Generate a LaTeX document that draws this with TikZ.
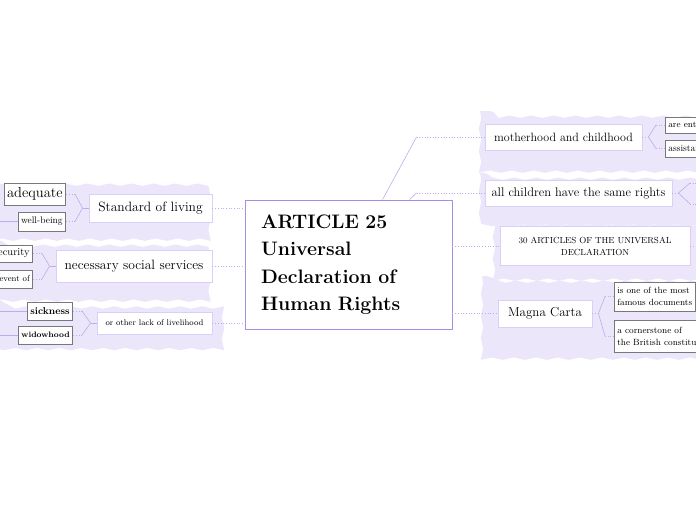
\documentclass[tikz,border=0pt]{standalone}
\usepackage{xcolor}
\definecolor{udhrlav}{RGB}{236, 230, 251}
\definecolor{udhrline}{RGB}{190, 172, 238}
\definecolor{udhrframe}{RGB}{168, 140, 230}
\definecolor{udhredge}{RGB}{218, 208, 247}
\definecolor{udhrgray}{RGB}{120, 120, 120}
\usetikzlibrary{positioning, calc, decorations.pathmorphing}

\begin{document}
\begin{tikzpicture}[x=1pt, y=-1pt,
    central/.style={rectangle, draw=udhrframe, line width=0.9pt, fill=white, minimum width=207pt, minimum height=129pt, text width=175pt, align=left, font=\fontsize{19.5}{27.5}\selectfont\bfseries},
    topic/.style={rectangle, draw=udhredge, line width=0.9pt, fill=white, inner sep=2pt, align=center},
    leaf/.style={rectangle, draw=udhrgray, line width=0.6pt, fill=white, inner xsep=3pt, inner ysep=1pt, align=left},
    link/.style={draw=udhrline, dotted, line width=0.7pt},
    arm/.style={draw=udhrline, line width=0.6pt},
    blob/.style={fill=udhrlav, decorate, decoration={snake, amplitude=1.2pt, segment length=22pt}}
]
\useasboundingbox (0,0) rectangle (696,520);
\clip (0,0) rectangle (696,520);

% === Fondos ondulados ===
\fill[blob] (-8,179) rectangle (214,234);
\fill[blob] (-8,240) rectangle (214,292);
\fill[blob] (-8,297) rectangle (214,346);
\fill[blob] (480,111) rectangle (705,162);
\fill[blob] (480,173) rectangle (705,214);
\fill[blob] (494,219) rectangle (705,271);
\fill[blob] (482,276) rectangle (705,359);

% === Nodo central ===
\node[central] (article) at (348.5,264.5) {ARTICLE 25\\Universal\\Declaration of\\Human Rights};

% === Ramas izquierdas ===
\node[topic, minimum width=123pt, minimum height=28pt, font=\fontsize{13.5}{15}\selectfont] (living) at (150.5,208) {Standard of living};
\node[topic, minimum width=156pt, minimum height=32pt, font=\fontsize{13.5}{15}\selectfont] (services) at (134,266) {necessary social services};
\node[topic, minimum width=115pt, minimum height=22pt, font=\fontsize{8.2}{10}\selectfont] (livelihood) at (154.5,323) {or other lack of livelihood};

\node[leaf, anchor=east, minimum height=22pt, font=\fontsize{14.5}{16}\selectfont] (adequate) at (66,194) {adequate};
\node[leaf, anchor=east, minimum height=19pt, font=\fontsize{9.5}{11}\selectfont] (wellbeing) at (66,221.5) {well-being};
\node[leaf, anchor=east, minimum height=17pt, font=\fontsize{10.5}{12}\selectfont] (security) at (33,253.5) {security};
\node[leaf, anchor=east, minimum height=18pt, font=\fontsize{8.5}{10}\selectfont] (inevent) at (33,279) {in the event of};
\node[leaf, anchor=east, minimum height=18pt, font=\fontsize{10}{12}\selectfont\bfseries] (sickness) at (73,311) {sickness};
\node[leaf, anchor=east, minimum height=18pt, font=\fontsize{8}{10}\selectfont\bfseries] (widowhood) at (73,335) {widowhood};

% hijos fuera del cuadro
\coordinate (wellend) at (-6,221.5);
\coordinate (sickend) at (-6,311);
\coordinate (widowend) at (-6,335);

% === Ramas derechas ===
\node[topic, minimum width=157pt, minimum height=26pt, font=\fontsize{12}{14}\selectfont] (mother) at (563.5,137) {motherhood and childhood};
\node[topic, minimum width=187pt, minimum height=26pt, font=\fontsize{12.5}{14}\selectfont] (children) at (578.5,193) {all children have the same rights};
\node[topic, minimum width=190pt, minimum height=39pt, text width=184pt, font=\fontsize{8.8}{12}\selectfont] (articles) at (595,246) {30 ARTICLES OF THE UNIVERSAL\\DECLARATION};
\node[topic, minimum width=94pt, minimum height=27pt, font=\fontsize{13}{15}\selectfont] (magna) at (545,313.5) {Magna Carta};

\node[leaf, anchor=west, minimum height=16pt, font=\fontsize{9}{10}\selectfont] (entitled) at (665,125) {are entitled to special};
\node[leaf, anchor=west, minimum height=17pt, font=\fontsize{9.5}{11}\selectfont] (assist) at (665,148.5) {assistance};
\node[leaf, anchor=west, minimum height=29pt, font=\fontsize{9}{12}\selectfont] (famous) at (614,296.5) {is one of the most\\famous documents};
\node[leaf, anchor=west, minimum height=32pt, font=\fontsize{9}{12}\selectfont] (cornerstone) at (614,336) {a cornerstone of\\the British constitution};

\coordinate (kidsup) at (699,183);
\coordinate (kidsdown) at (699,204);
\coordinate (artsend) at (704,246);

% === Conexiones al nodo central ===
\foreach \n in {living, services, livelihood} {
    \draw[link] (\n.east) -- (article.west |- \n);
}
\foreach \n in {articles, magna} {
    \draw[link] (article.east |- \n) -- (\n.west);
}
\draw[arm] ($(article.north west)+(138,0)$) -- ($(mother.west)+(-68,0)$) coordinate (mbend);
\draw[link] (mbend) -- (mother.west);
\draw[arm] ($(article.north west)+(165,0)$) -- ($(children.west)+(-68,0)$) coordinate (cbend);
\draw[link] (cbend) -- (children.west);

% === Corchetes hacia las hojas ===
\foreach \p/\a/\b in {living/adequate/wellbeing, services/security/inevent, livelihood/sickness/widowhood} {
    \draw[arm] ($(\a.east)+(9,0)$) -- ($(\p.west)+(-6,0)$) -- ($(\b.east)+(9,0)$);
    \draw[arm] ($(\p.west)+(-6,0)$) -- (\p.west);
    \draw[link] ($(\a.east)+(9,0)$) -- (\a.east);
    \draw[link] ($(\b.east)+(9,0)$) -- (\b.east);
}
\foreach \p/\a/\b in {mother/entitled/assist, children/kidsup/kidsdown, magna/famous/cornerstone} {
    \draw[arm] ($(\a.west)+(-9,0)$) -- ($(\p.east)+(6,0)$) -- ($(\b.west)+(-9,0)$);
    \draw[link] (\p.east) -- ($(\p.east)+(6,0)$);
    \draw[link] ($(\a.west)+(-9,0)$) -- (\a.west);
    \draw[link] ($(\b.west)+(-9,0)$) -- (\b.west);
}
\draw[link] (articles.east) -- (artsend);

% hijos cortados a la izquierda
\draw[arm] (wellbeing.west) -- (wellend);
\draw[arm] (sickness.west) -- (sickend);
\draw[arm] (widowhood.west) -- (widowend);

\end{tikzpicture}
\end{document}
